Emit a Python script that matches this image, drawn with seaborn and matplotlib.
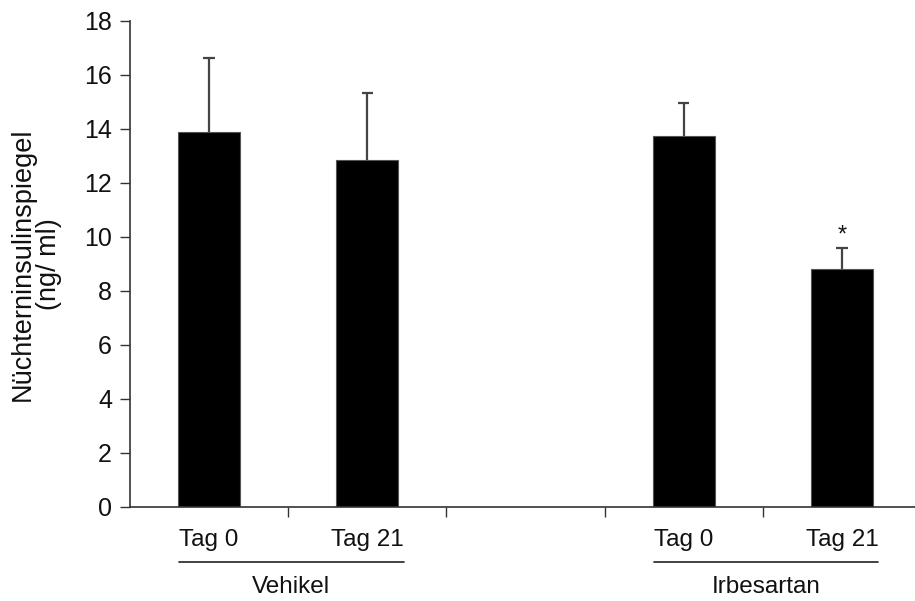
import matplotlib
matplotlib.use("Agg")
import matplotlib.pyplot as plt
import seaborn as sns
import pandas as pd
import numpy as np

# Data
order = ["Vehikel Tag 0", "Vehikel Tag 21", "gap", "Irbesartan Tag 0", "Irbesartan Tag 21"]
categories = ["Vehikel Tag 0", "Vehikel Tag 21", "Irbesartan Tag 0", "Irbesartan Tag 21"]
means = [13.9, 12.85, 13.75, 8.81]
errors = [2.72, 2.48, 1.2, 0.8]
tick_labels = ["Tag 0", "Tag 21", "", "Tag 0", "Tag 21"]
groups = ["Vehikel", "Irbesartan"]
significant = [False, False, False, True]

sns.set_theme(style="white")
plt.rcParams["font.family"] = ["Liberation Sans", "DejaVu Sans"]

df = pd.DataFrame({"cat": categories, "val": means})

fig = plt.figure(figsize=(9.15, 6.01), dpi=100)
ax = fig.add_axes([130 / 915, 1 - 507 / 601, (921 - 130) / 915, (507 - 21) / 601])

sns.barplot(data=df, x="cat", y="val", order=order, color="black", width=0.39,
            edgecolor="#555555", linewidth=0.8, errorbar=None, ax=ax, saturation=1)

pos = np.array([order.index(c) for c in categories])
tops = np.array(means) + np.array(errors)
ax.vlines(pos, means, tops, color="#444444", lw=1.6, zorder=3)
ax.hlines(tops, pos - 0.036, pos + 0.036, color="#444444", lw=1.6, zorder=3)

for p, t, s in zip(pos, tops, significant):
    if s:
        ax.text(p, t + 0.45, "*", ha="center", va="center", fontsize=17, color="#111111")

ax.set_xlim(-0.5, 4.5)
ax.set_ylim(0, 18)
ax.set_yticks(np.arange(0, 19, 2))
ax.tick_params(axis="y", labelsize=18, length=7, width=1, color="#333333",
               direction="out", left=True, pad=6, labelcolor="#111111")

# major ticks at boundaries, labels on minor ticks at centres
ax.set_xticks([0.5, 1.5, 2.5, 3.5, 4.5])
ax.set_xticklabels([])
ax.tick_params(axis="x", which="major", length=7, width=1, color="#333333", direction="out", bottom=True)
ax.set_xticks(range(len(order)), minor=True)
ax.set_xticklabels(tick_labels, minor=True)
ax.tick_params(axis="x", which="minor", length=0, labelsize=17.5, pad=16, labelcolor="#111111")
ax.set_xlabel("")
ax.set_ylabel("Nüchterninsulinspiegel\n(ng/ ml)", fontsize=19.5, linespacing=1.0, color="#111111")
ax.yaxis.set_label_coords(-0.086, 0.5)

for side in ["top", "right"]:
    ax.spines[side].set_visible(False)
for side in ["left", "bottom"]:
    ax.spines[side].set_color("#333333")
    ax.spines[side].set_linewidth(1.2)

# group underlines and labels
trans = ax.get_xaxis_transform()
group_spans = [(0, 1), (3, 4)]
for (a, b), g in zip(group_spans, groups):
    ax.plot([a - 0.19, b + 0.23], [-0.113, -0.113], transform=trans, color="#222222",
            lw=1.2, clip_on=False)
    ax.text((a + b) / 2 + 0.02, -0.165, g, transform=trans, ha="center", va="center",
            fontsize=17.5, color="#111111")

fig.savefig("out.png", dpi=100)
